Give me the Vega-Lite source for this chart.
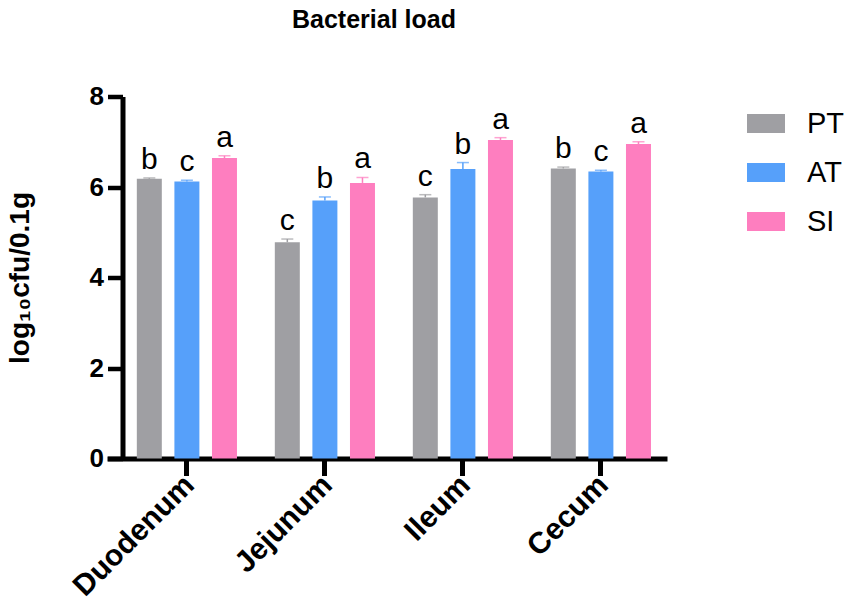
{
  "$schema": "https://vega.github.io/schema/vega-lite/v6.json",
  "autosize": "none",
  "width": 560,
  "height": 362,
  "padding": {"left": 107, "top": 96.5, "right": 184, "bottom": 144.5},
  "background": "white",
  "title": {
    "text": "Bacterial load",
    "fontSize": 25,
    "fontWeight": "bold",
    "font": "Liberation Sans",
    "anchor": "start",
    "frame": "group",
    "dx": 185,
    "offset": 51
  },
  "data": {
    "values": [
      {"site": "Duodenum", "group": "PT", "value": 6.18, "upper": 6.2, "letter": "b"},
      {"site": "Duodenum", "group": "AT", "value": 6.12, "upper": 6.15, "letter": "c"},
      {"site": "Duodenum", "group": "SI", "value": 6.64, "upper": 6.69, "letter": "a"},
      {"site": "Jejunum", "group": "PT", "value": 4.78, "upper": 4.85, "letter": "c"},
      {"site": "Jejunum", "group": "AT", "value": 5.7, "upper": 5.78, "letter": "b"},
      {"site": "Jejunum", "group": "SI", "value": 6.09, "upper": 6.21, "letter": "a"},
      {"site": "Ileum", "group": "PT", "value": 5.77, "upper": 5.83, "letter": "c"},
      {"site": "Ileum", "group": "AT", "value": 6.4, "upper": 6.54, "letter": "b"},
      {"site": "Ileum", "group": "SI", "value": 7.04, "upper": 7.09, "letter": "a"},
      {"site": "Cecum", "group": "PT", "value": 6.41, "upper": 6.44, "letter": "b"},
      {"site": "Cecum", "group": "AT", "value": 6.34, "upper": 6.37, "letter": "c"},
      {"site": "Cecum", "group": "SI", "value": 6.95, "upper": 7.0, "letter": "a"}
    ]
  },
  "encoding": {
    "x": {
      "field": "site",
      "type": "nominal",
      "sort": ["Duodenum", "Jejunum", "Ileum", "Cecum"],
      "scale": {"paddingInner": 0.18, "paddingOuter": 0.119, "align": 0.71},
      "axis": {
        "title": null,
        "labelAngle": -45,
        "labelAlign": "right",
        "labelBaseline": "top",
        "labelFontSize": 30,
        "labelFontWeight": "bold",
        "labelColor": "black",
        "labelPadding": -6,
        "labelOffset": -8,
        "domainColor": "black",
        "domainWidth": 5,
        "tickColor": "black",
        "tickWidth": 5,
        "tickSize": 17
      }
    },
    "xOffset": {
      "field": "group",
      "type": "nominal",
      "sort": ["PT", "AT", "SI"],
      "scale": {"paddingInner": 0.335, "paddingOuter": 0.173}
    },
    "color": {
      "field": "group",
      "type": "nominal",
      "sort": ["PT", "AT", "SI"],
      "scale": {"domain": ["PT", "AT", "SI"], "range": ["#9f9fa3", "#56a0fa", "#fe7ebf"]},
      "legend": {
        "title": null,
        "orient": "none",
        "legendX": 640,
        "legendY": 8,
        "padding": 0,
        "symbolType": "M-1,-0.5H1V0.5H-1Z",
        "symbolSize": 1444,
        "symbolStrokeWidth": 0,
        "symbolOpacity": 1,
        "labelFontSize": 29,
        "labelColor": "black",
        "labelOffset": 22,
        "rowPadding": 15
      }
    }
  },
  "layer": [
    {
      "mark": {"type": "bar", "opacity": 1},
      "encoding": {
        "y": {
          "field": "value",
          "type": "quantitative",
          "scale": {"domain": [0, 8], "nice": false},
          "axis": {
            "title": "log₁₀cfu/0.1g",
            "titleFontSize": 28,
            "titleFontWeight": "bold",
            "titleColor": "black",
            "titlePadding": 55,
            "values": [0, 2, 4, 6, 8],
            "grid": false,
            "offset": -15.5,
            "labelFontSize": 26,
            "labelFontWeight": "bold",
            "labelColor": "black",
            "labelPadding": 4,
            "domainColor": "black",
            "domainWidth": 5,
            "tickColor": "black",
            "tickWidth": 4.5,
            "tickSize": 15
          }
        }
      }
    },
    {
      "mark": {"type": "rule", "strokeWidth": 1.5},
      "encoding": {
        "y": {"field": "value", "type": "quantitative"},
        "y2": {"field": "upper"}
      }
    },
    {
      "mark": {"type": "tick", "thickness": 1.5, "size": 12},
      "encoding": {
        "y": {"field": "upper", "type": "quantitative"}
      }
    },
    {
      "mark": {"type": "text", "fontSize": 30, "baseline": "bottom", "dy": -3},
      "encoding": {
        "y": {"field": "upper", "type": "quantitative"},
        "text": {"field": "letter"},
        "color": {"value": "black"}
      }
    }
  ],
  "config": {
    "font": "Liberation Sans",
    "view": {"stroke": null},
    "axis": {"labelFont": "Liberation Sans", "titleFont": "Liberation Sans"},
    "legend": {"labelFont": "Liberation Sans"}
  }
}
